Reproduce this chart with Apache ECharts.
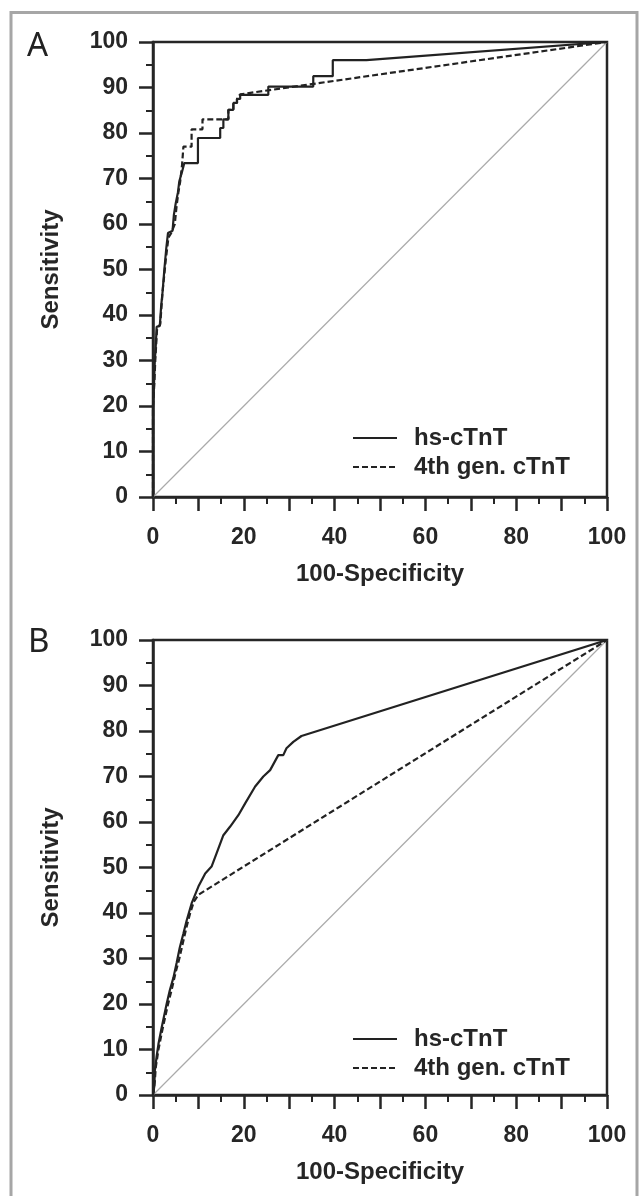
<!DOCTYPE html>
<html><head><meta charset="utf-8">
<script src="https://cdn.jsdelivr.net/npm/echarts@6/dist/echarts.min.js"></script>
<style>html,body{margin:0;padding:0;background:#fff}#c{width:643px;height:1196px}</style>
</head><body><div id="c"></div>
<script>
// ---- text ----
const panelLabels = ['A', 'B'];
const seriesNames = ['hs-cTnT', '4th gen. cTnT'];
const xAxisTitle = '100-Specificity';
const yAxisTitle = 'Sensitivity';
const xTickLabels = [0, 20, 40, 60, 80, 100];
const yTickLabels = [0, 10, 20, 30, 40, 50, 60, 70, 80, 90, 100];

// ---- reference diagonal ----
const diagX = [0, 100];
const diagY = [0, 100];

// ---- Panel A: hs-cTnT (100-specificity, sensitivity) ----
const hsA_x = [0, 0, 0.2, 0.4, 0.6, 0.8, 1.5, 1.8, 2.1, 2.5, 2.9, 3.3, 4.3, 4.6, 5.0, 5.5, 5.8, 6.4, 6.9, 9.9, 9.9, 14.8, 14.8, 15.5, 15.5, 16.6, 16.6, 17.7, 17.7, 18.5, 18.5, 19.2, 19.2, 25.4, 25.4, 35.3, 35.3, 39.6, 39.6, 47.0, 100];
const hsA_y = [0, 20, 24, 30, 33, 37.4, 37.6, 42, 45, 50, 54.4, 58, 58.5, 62, 64.5, 67, 69.4, 71.5, 73.4, 73.4, 78.9, 78.9, 81.1, 81.1, 83.0, 83.0, 85.1, 85.1, 86.6, 86.6, 87.5, 87.5, 88.4, 88.4, 90.2, 90.2, 92.5, 92.5, 96.0, 96.0, 100];

// ---- Panel A: 4th gen. cTnT ----
const genA_x = [0, 0, 0.3, 0.5, 0.9, 1.6, 2.1, 2.8, 3.4, 4.0, 4.8, 5.2, 5.6, 6.0, 6.4, 6.7, 8.5, 8.5, 10.9, 10.9, 16.6, 16.6, 17.7, 17.7, 18.5, 18.5, 19.2, 100];
const genA_y = [0, 20, 25, 30, 37, 38, 45, 52, 57, 58, 60, 64, 67, 69.4, 73, 77.0, 77.0, 80.8, 80.8, 83.0, 83.0, 85.1, 85.1, 86.6, 86.6, 87.5, 88.5, 100];

// ---- Panel B: hs-cTnT ----
const hsB_x = [0, 0.3, 0.4, 0.8, 1.2, 1.9, 3.0, 3.7, 4.5, 5.2, 5.9, 6.7, 7.4, 8.5, 10.0, 11.5, 12.9, 14.0, 15.5, 17.0, 18.8, 20.3, 22.5, 24.3, 25.8, 27.6, 28.7, 29.4, 30.9, 32.7, 100];
const hsB_y = [0, 2, 5.3, 8.5, 11.2, 14.8, 20, 23, 25.8, 29, 32.4, 35.5, 38.3, 42.1, 45.8, 48.7, 50.2, 53.1, 57.1, 59.0, 61.5, 64.1, 67.8, 70.0, 71.4, 74.7, 74.7, 76.2, 77.6, 78.9, 100];

// ---- Panel B: 4th gen. cTnT ----
const genB_x = [0, 0.4, 0.6, 1.2, 2.0, 3.2, 4.2, 5.0, 5.8, 6.6, 7.4, 8.2, 9.0, 10.0, 100];
const genB_y = [0, 3, 6, 10, 14, 19.5, 23.5, 27, 30, 33.5, 37, 40, 42.5, 44, 100];

const zip = (xs, ys) => xs.map((x, i) => [x, ys[i]]);

const INK = '#262626';
const FONT = '"Liberation Sans", Arial, sans-serif';
const grids = [
  { left: 153, top: 42, width: 454, height: 455 },
  { left: 153, top: 640, width: 454, height: 455 }
];

function xAxis(i) {
  return {
    type: 'value', gridIndex: i, min: 0, max: 100, interval: 10,
    name: xAxisTitle, nameLocation: 'middle', nameGap: 65,
    nameTextStyle: { fontFamily: FONT, fontWeight: 'bold', fontSize: 24, color: INK },
    axisLine: { lineStyle: { color: INK, width: 2.5 } },
    axisTick: { show: true, inside: false, length: 14, lineStyle: { color: INK, width: 2.5 } },
    minorTick: { show: true, splitNumber: 2, length: 7, lineStyle: { color: INK, width: 2 } },
    splitLine: { show: false },
    axisLabel: {
      margin: 29, fontFamily: FONT, fontWeight: 'bold', fontSize: 23, color: INK,
      formatter: v => xTickLabels.includes(v) ? String(v) : ''
    }
  };
}
function yAxis(i) {
  return {
    type: 'value', gridIndex: i, min: 0, max: 100, interval: 10,
    name: yAxisTitle, nameLocation: 'middle', nameGap: 90, nameRotate: 90,
    nameTextStyle: { fontFamily: FONT, fontWeight: 'bold', fontSize: 24, color: INK },
    axisLine: { lineStyle: { color: INK, width: 2.5 } },
    axisTick: { show: true, inside: false, length: 14, lineStyle: { color: INK, width: 2.5 } },
    minorTick: { show: true, splitNumber: 2, length: 7, lineStyle: { color: INK, width: 2 } },
    splitLine: { show: false },
    axisLabel: {
      margin: 25, fontFamily: FONT, fontWeight: 'bold', fontSize: 23, color: INK,
      formatter: v => yTickLabels.includes(v) ? String(v) : ''
    }
  };
}

function diag(i) {
  return { type: 'line', xAxisIndex: i, yAxisIndex: i, data: zip(diagX, diagY), symbol: 'none',
    lineStyle: { color: '#aaaaaa', width: 1.2 }, silent: true, z: 1 };
}
function curve(i, name, data, dashed) {
  return { type: 'line', name: name, xAxisIndex: i, yAxisIndex: i, data: data, symbol: 'none',
    lineStyle: { color: '#222', width: 2.2, type: dashed ? [6, 3] : 'solid' }, itemStyle: { color: '#222' }, z: 3 };
}

function legend(top) {
  return {
    orient: 'vertical', left: 347, top: top, itemWidth: 44, itemHeight: 14, itemGap: 3,
    data: seriesNames, selectedMode: false,
    itemStyle: { opacity: 0 },
    textStyle: { fontFamily: FONT, fontWeight: 'bold', fontSize: 24, lineHeight: 26, color: INK, padding: [0, 0, 0, 12] }
  };
}

const chart = echarts.init(document.getElementById('c'), null, { renderer: 'canvas' });
chart.setOption({
  animation: false,
  backgroundColor: '#fff',
  grid: grids.map(g => Object.assign({ show: true, borderColor: INK, borderWidth: 2.5, backgroundColor: 'transparent' }, g)),
  xAxis: [xAxis(0), xAxis(1)],
  yAxis: [yAxis(0), yAxis(1)],
  legend: [legend(420), legend(1021)],
  series: [
    diag(0),
    curve(0, seriesNames[0], zip(hsA_x, hsA_y), false),
    curve(0, seriesNames[1], zip(genA_x, genA_y), true),
    diag(1),
    curve(1, seriesNames[0], zip(hsB_x, hsB_y), false),
    curve(1, seriesNames[1], zip(genB_x, genB_y), true)
  ],
  graphic: [
    { type: 'rect', shape: { x: 11, y: 12.5, width: 626, height: 1200 }, style: { fill: 'none', stroke: '#a6a6a6', lineWidth: 3 }, silent: true },
    { type: 'text', x: 27, y: 47, style: { text: panelLabels[0], font: '33px "Noto Sans", "Open Sans", sans-serif', fill: '#222', verticalAlign: 'middle' } },
    { type: 'text', x: 28, y: 643, style: { text: panelLabels[1], font: '33px "Noto Sans", "Open Sans", sans-serif', fill: '#222', verticalAlign: 'middle' } }
  ]
});
</script>
</body></html>
